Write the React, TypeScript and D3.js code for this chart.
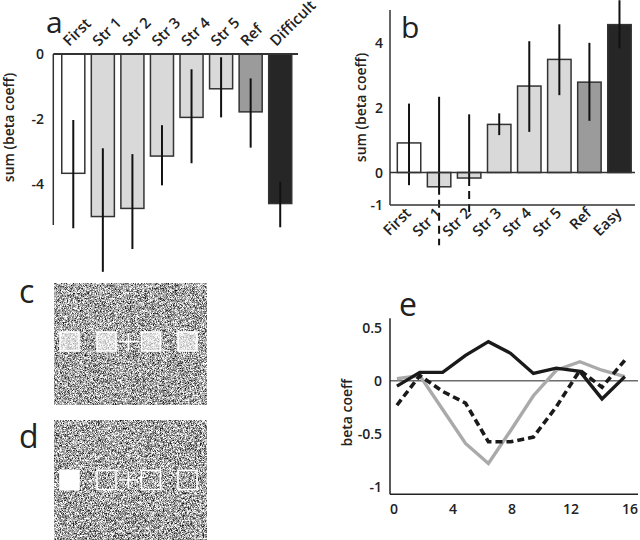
import React from 'react';
import * as d3 from 'd3';

// panel a
const aCats = ['First', 'Str 1', 'Str 2', 'Str 3', 'Str 4', 'Str 5', 'Ref', 'Difficult'];
const aVals = [-3.67, -5.0, -4.75, -3.14, -1.95, -1.07, -1.78, -4.6];
const aErrHi = [-2.03, -2.9, -3.08, -2.19, -0.47, -0.1, -0.75, -3.93];
const aErrLo = [-5.36, -6.7, -6.0, -4.04, -3.36, -1.95, -2.88, -5.33];
const aTicks = [0, -2, -4];

// panel b
const bCats = ['First', 'Str 1', 'Str 2', 'Str 3', 'Str 4', 'Str 5', 'Ref', 'Easy'];
const bVals = [0.91, -0.44, -0.17, 1.48, 2.66, 3.48, 2.78, 4.55];
const bErrHi = [2.12, 2.33, 1.79, 1.82, 4.04, 4.56, 3.99, 5.3];
const bErrLo = [-0.39, -2.24, -1.26, 1.15, 1.25, 2.38, 1.59, 3.82];
const bDashedLow = ['Str 1', 'Str 2'];
const bTicks = [4, 2, 0, -1];

// panel e
const eLags = [0.2, 1.75, 3.3, 4.85, 6.4, 7.9, 9.45, 11.0, 12.6, 14.1, 15.65];
const eSolid = [-0.05, 0.08, 0.08, 0.24, 0.37, 0.26, 0.07, 0.12, 0.09, -0.17, 0.04];
const eGray = [0.02, 0.05, -0.27, -0.59, -0.78, -0.47, -0.14, 0.1, 0.18, 0.1, 0.04];
const eDashed = [-0.23, 0.05, -0.1, -0.21, -0.575, -0.575, -0.53, -0.245, 0.1, -0.06, 0.195];
const eXTicks = [0, 4, 8, 12, 16];
const eYTicks = [0.5, 0, -0.5, -1];

// bar fills by position (first / strength levels / ref / extreme)
const fills = ['#ffffff', '#d9d9d9', '#d9d9d9', '#d9d9d9', '#d9d9d9', '#d9d9d9', '#9b9b9b', '#262626'];

const font = '"Open Sans", "Noto Sans", sans-serif';

const fmt = (v: number) => (v === 0 ? '0' : String(v));

const NoiseImage = ({ id, x, y, w, h, seed }: { id: string; x: number; y: number; w: number; h: number; seed: number }) => (
    <g>
        <defs>
            <filter id={id} x={x} y={y} width={w} height={h} filterUnits="userSpaceOnUse" colorInterpolationFilters="sRGB">
                <feTurbulence type="fractalNoise" baseFrequency="1.6" numOctaves={1} seed={seed} />
                <feColorMatrix type="matrix" values="2.3 0 0 0 -0.5  2.3 0 0 0 -0.5  2.3 0 0 0 -0.5  0 0 0 0 1" />
            </filter>
        </defs>
        <rect x={x} y={y} width={w} height={h} fill="#888" filter={`url(#${id})`} />
    </g>
);

export default function App() {
    // ---- a ----
    const ax = d3.scaleBand<string>().domain(aCats).range([58.5, 295]).paddingInner(0.22).paddingOuter(0.11);
    const ay = d3.scaleLinear().domain([-5.26, 0]).range([225, 54]);

    // ---- b ----
    const bx = d3.scaleBand<string>().domain(bCats).range([394, 634.5]).paddingInner(0.22).paddingOuter(0.11);
    const by = d3.scaleLinear().domain([-1, 5]).range([205, 10]);

    // ---- e ----
    const ex = d3.scaleLinear().domain([-0.27, 16.54]).range([390, 638]);
    const ey = d3.scaleLinear().domain([-1.07, 0.59]).range([494.3, 318.3]);
    const line = d3.line<number>().x((_, i) => ex(eLags[i])).y(d => ey(d));

    const tickStyle = { fontFamily: font, fontSize: 14, fontWeight: 600, fill: '#222' } as const;
    const catStyle = { fontFamily: font, fontSize: 15, fontWeight: 600, fill: '#222' } as const;
    const letterStyle = { fontFamily: font, fontSize: 32, fontWeight: 500, fill: '#222' } as const;

    // stimulus squares (c, d)
    const sq = 19;
    const squareXs = [60, 97, 141.5, 178];

    return (
        <svg width={640} height={540} style={{ position: 'absolute', left: 0, top: 0, background: '#fff' }}>
            {/* ===== panel a ===== */}
            <text x={46} y={33} style={{ ...letterStyle, fontSize: 30 }}>a</text>
            <text transform={`translate(14,${(ay(0) + ay(-5.26)) / 2 - 12}) rotate(-90)`} textAnchor="middle" style={tickStyle}>sum (beta coeff)</text>
            {aCats.map((c, i) => {
                const x0 = ax(c)!;
                const xc = x0 + ax.bandwidth() / 2;
                return (
                    <g key={c}>
                        <rect x={x0} y={ay(0)} width={ax.bandwidth()} height={ay(aVals[i]) - ay(0)} fill={fills[i]} stroke="#333" strokeWidth={1.5} />
                        <line x1={xc} x2={xc} y1={ay(aErrHi[i])} y2={ay(aErrLo[i])} stroke="#111" strokeWidth={2} />
                        <text transform={`translate(${xc - 4},${ay(0) - 7}) rotate(-45)`} style={catStyle}>{c}</text>
                    </g>
                );
            })}
            <line x1={53.3} x2={53.3} y1={ay(0)} y2={ay(-5.26)} stroke="#333" strokeWidth={1.5} />
            <line x1={53.3} x2={298} y1={ay(0)} y2={ay(0)} stroke="#333" strokeWidth={2} />
            {aTicks.map(t => (
                <text key={t} x={44} y={ay(t)} dy="0.38em" textAnchor="end" style={tickStyle}>{fmt(t)}</text>
            ))}

            {/* ===== panel b ===== */}
            <text x={401} y={38} style={{ ...letterStyle, fontSize: 30 }}>b</text>
            <text transform={`translate(366,${(by(5) + by(-1)) / 2}) rotate(-90)`} textAnchor="middle" style={tickStyle}>sum (beta coeff)</text>
            {bCats.map((c, i) => {
                const x0 = bx(c)!;
                const xc = x0 + bx.bandwidth() / 2;
                const dashed = bDashedLow.includes(c);
                const y0 = by(Math.max(0, bVals[i]));
                const y1 = by(Math.min(0, bVals[i]));
                return (
                    <g key={c}>
                        <rect x={x0} y={y0} width={bx.bandwidth()} height={y1 - y0} fill={fills[i]} stroke="#333" strokeWidth={1.5} />
                        {dashed ? (
                            <g>
                                <line x1={xc} x2={xc} y1={by(bErrHi[i])} y2={by(bVals[i])} stroke="#111" strokeWidth={2} />
                                <line x1={xc} x2={xc} y1={by(bVals[i])} y2={by(bErrLo[i])} stroke="#111" strokeWidth={2} strokeDasharray="8,5" />
                            </g>
                        ) : (
                            <line x1={xc} x2={xc} y1={by(bErrHi[i])} y2={by(bErrLo[i])} stroke="#111" strokeWidth={2} />
                        )}
                        <text transform={`translate(${xc + 3},${by(-1) + 9}) rotate(-45)`} textAnchor="end" style={catStyle}>{c}</text>
                    </g>
                );
            })}
            <line x1={390} x2={390} y1={by(5)} y2={by(-1)} stroke="#333" strokeWidth={1.5} />
            <line x1={390} x2={635} y1={by(-1)} y2={by(-1)} stroke="#333" strokeWidth={1.5} />
            <line x1={390} x2={635} y1={by(0)} y2={by(0)} stroke="#333" strokeWidth={1.5} />
            {bTicks.map(t => (
                <text key={t} x={383} y={by(t)} dy="0.38em" textAnchor="end" style={tickStyle}>{fmt(t)}</text>
            ))}

            {/* ===== panel c ===== */}
            <text x={19} y={303} style={letterStyle}>c</text>
            <NoiseImage id="noiseC" x={54} y={283.5} w={153} h={121} seed={4} />
            {squareXs.map(x => (
                <rect key={x} x={x} y={332} width={sq} height={sq} fill="#ffffff" fillOpacity={0.62} stroke="#fff" strokeWidth={1.6} />
            ))}
            <line x1={118.5} x2={138} y1={341.5} y2={341.5} stroke="#fff" strokeWidth={1.6} />
            <line x1={128.3} x2={128.3} y1={333} y2={350} stroke="#fff" strokeWidth={1.6} />

            {/* ===== panel d ===== */}
            <text x={19} y={448} style={letterStyle}>d</text>
            <NoiseImage id="noiseD" x={54} y={420} w={153} h={120} seed={11} />
            {squareXs.map((x, i) => (
                <rect key={x} x={x} y={470.5} width={sq} height={sq} fill={i === 0 ? '#fff' : 'none'} stroke="#fff" strokeWidth={1.6} />
            ))}
            <line x1={118.5} x2={138} y1={480} y2={480} stroke="#fff" strokeWidth={1.6} />
            <line x1={128.3} x2={128.3} y1={471.5} y2={488.5} stroke="#fff" strokeWidth={1.6} />

            {/* ===== panel e ===== */}
            <text x={399} y={316} style={letterStyle}>e</text>
            <text transform={`translate(352,${ey(-0.3)}) rotate(-90)`} textAnchor="middle" style={tickStyle}>beta coeff</text>
            <line x1={ex(-0.27)} x2={ex(16.54)} y1={ey(0)} y2={ey(0)} stroke="#222" strokeWidth={1} />
            <path d={line(eGray)!} fill="none" stroke="#aaaaaa" strokeWidth={3.4} strokeLinejoin="miter" />
            <path d={line(eDashed)!} fill="none" stroke="#1a1a1a" strokeWidth={3.6} strokeDasharray="7,4" />
            <path d={line(eSolid)!} fill="none" stroke="#1a1a1a" strokeWidth={3.4} />
            <line x1={ex(-0.27)} x2={ex(-0.27)} y1={ey(0.59)} y2={ey(-1.07)} stroke="#222" strokeWidth={1.5} />
            <line x1={ex(-0.27)} x2={ex(16.54)} y1={ey(-1.07)} y2={ey(-1.07)} stroke="#222" strokeWidth={1.5} />
            {eYTicks.map(t => (
                <text key={t} x={382} y={ey(t)} dy="0.38em" textAnchor="end" style={tickStyle}>{fmt(t)}</text>
            ))}
            {eXTicks.map(t => (
                <text key={t} x={ex(t)} y={514} textAnchor="middle" style={tickStyle}>{t}</text>
            ))}
        </svg>
    );
}
